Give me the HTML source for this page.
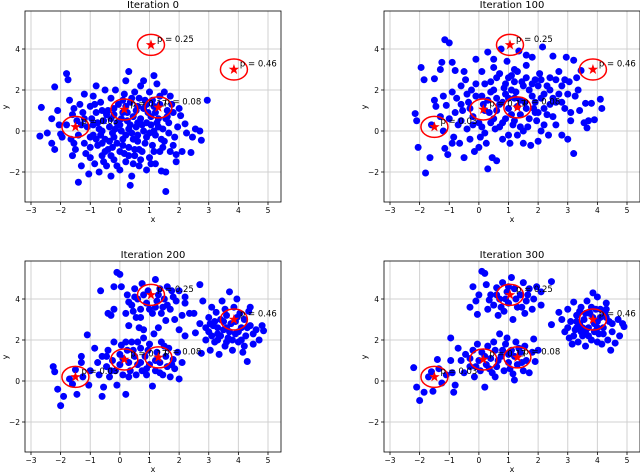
<!DOCTYPE html>
<html><head><meta charset="utf-8">
<style>
html,body{margin:0;padding:0;background:#fff;overflow:hidden}
svg{display:block}
text{font-family:"DejaVu Sans","Liberation Sans",sans-serif}
</style></head>
<body>
<svg id="chart" width="640" height="472" viewBox="0 0 640 472"></svg>
<script>
const titles = ["Iteration 0","Iteration 100","Iteration 200","Iteration 300"];
const xTicks = [-3,-2,-1,0,1,2,3,4,5];
const yTicks = [-2,0,2,4];
const meansX = [-1.5,0.15,1.3,1.05,3.85];
const meansY = [0.2,1.05,1.15,4.2,3.0];
const weights = ["0.03","0.17","0.08","0.25","0.46"];
const pts0 = [[-2.7,-0.25],[-2.65,1.15],[-2.45,-0.1],[-2.3,-0.6],[-2.3,0.6],[-2.2,2.15],[-2.2,-0.9],[-2.1,1.0],[-2.05,0.3],[-2.0,-0.15],[-1.95,-0.3],[-1.8,2.8],[-1.75,2.5],[-1.7,1.5],[-1.65,-0.4],[-1.6,-1.2],[-1.55,1.1],[-1.5,-0.9],[-1.45,0.5],[-1.4,-2.5],[-1.35,1.3],[-1.3,-1.7],[-1.25,0.9],[-1.2,1.8],[-1.2,-0.6],[-1.15,-1.1],[-1.1,0.2],[-1.05,-2.1],[-1.0,1.2],[-1.0,-1.3],[-0.95,0.6],[-0.9,-0.2],[-0.9,1.7],[-0.85,-1.6],[-0.8,2.2],[-0.8,0.9],[-0.75,-0.7],[-0.7,0.1],[-0.7,-2.0],[-0.65,1.4],[-0.6,-1.2],[-0.55,0.5],[-0.5,2.0],[-0.5,-0.4],[-0.45,-1.7],[-0.4,1.0],[-0.4,-0.9],[-0.35,0.2],[-0.3,1.6],[-0.3,-2.2],[-0.25,-0.1],[-0.2,0.8],[-0.2,-1.4],[-0.15,2.0],[-0.1,-0.6],[-0.1,0.4],[-0.05,1.3],[0.0,-1.0],[0.0,-1.9],[0.05,0.0],[0.1,0.9],[0.1,-0.4],[0.15,1.8],[0.2,-1.5],[0.2,2.45],[0.25,0.5],[0.3,2.9],[0.3,-0.8],[0.35,-2.65],[0.35,1.4],[0.4,-0.1],[0.4,-2.2],[0.45,0.7],[0.5,-1.2],[0.5,1.9],[0.55,0.2],[0.6,-0.5],[0.6,1.2],[0.65,-1.7],[0.7,2.2],[0.7,0.6],[0.75,-1.0],[0.8,2.45],[0.8,0.0],[0.85,1.5],[0.9,-0.3],[0.9,-1.9],[0.95,0.9],[1.0,-1.3],[1.0,1.9],[1.05,0.3],[1.1,-0.7],[1.15,2.7],[1.15,1.2],[1.2,-0.2],[1.2,-1.6],[1.25,2.3],[1.3,0.6],[1.35,-1.0],[1.35,1.7],[1.4,-1.95],[1.45,0.1],[1.5,1.9],[1.5,-0.5],[1.55,-2.95],[1.55,-2.0],[1.6,1.0],[1.65,0.4],[1.7,-1.0],[1.7,1.7],[1.8,0.9],[1.85,-0.3],[1.9,-1.5],[1.9,-1.15],[1.95,0.2],[2.0,1.1],[2.05,0.75],[2.1,-1.0],[2.2,0.35],[2.25,-0.1],[2.4,-1.05],[2.45,-0.3],[2.55,0.1],[2.7,0.0],[2.75,-0.45],[2.95,1.5],[-0.6,0.0],[-0.3,0.6],[0.0,0.3],[0.3,0.1],[0.6,-0.2],[0.9,0.4],[1.2,0.9],[-0.2,-0.3],[0.5,-0.9],[0.2,1.2],[0.8,1.1],[-0.8,-0.4],[1.4,-0.4],[-0.5,-1.0],[0.3,-1.2],[1.0,-0.1],[-1.3,0.3],[-0.1,-1.7],[0.7,-1.4],[1.1,1.5],[-0.6,1.0],[0.4,1.6],[1.6,0.7],[-1.0,-0.8],[0.1,-0.7],[-0.3,-1.2],[0.6,0.4],[1.3,0.2],[-0.9,0.3],[0.2,-0.2],[-1.6,0.8],[-1.4,-0.2],[-1.2,0.6],[-1.0,-0.3],[-0.75,0.4],[-0.6,-0.6],[-0.45,0.8],[-0.35,-0.5],[-0.15,0.1],[0.05,0.6],[0.15,-1.1],[0.25,0.9],[0.45,-0.4],[0.55,1.0],[0.65,-0.9],[0.75,0.3],[0.85,-0.6],[1.05,0.7],[1.15,-1.0],[1.25,0.4],[1.35,1.3],[1.45,-0.8],[1.55,0.6],[1.65,-0.1],[1.75,1.3],[1.8,-0.7],[-0.55,-1.5],[0.45,-1.6],[1.05,-1.6],[-0.85,1.3],[-0.2,1.1],[0.9,1.3],[-1.55,-0.6],[-1.8,0.3],[-0.65,-0.2],[0.35,0.3],[1.15,0.0],[-0.25,-0.8],[0.1,1.5],[0.65,1.6]];
const pts100 = [[-2.15,0.85],[-2.1,0.5],[-2.05,-0.8],[-1.95,3.1],[-1.85,2.5],[-1.8,-2.05],[-1.65,-1.3],[-1.5,1.5],[-1.5,2.55],[-1.45,1.2],[-1.3,3.0],[-1.25,3.35],[-1.2,1.7],[-1.2,0.0],[-1.15,-0.85],[-1.15,4.45],[-1.1,1.25],[-1.05,-1.15],[-1.0,4.3],[-1.0,0.6],[-0.9,3.35],[-0.85,-0.3],[-0.8,2.95],[-0.75,1.6],[-0.7,0.3],[-0.65,-0.6],[-0.6,2.2],[-0.55,1.0],[-0.5,-1.3],[-0.45,2.5],[-0.4,0.1],[-0.35,1.4],[-0.3,-0.4],[-0.25,2.0],[-0.2,0.7],[-0.15,-1.0],[-0.1,3.5],[-0.1,1.7],[0.0,0.4],[0.05,-0.3],[0.1,2.9],[0.15,1.3],[0.2,2.3],[0.25,-0.6],[0.3,-1.85],[0.3,3.85],[0.35,0.9],[0.4,1.9],[0.45,-1.3],[0.5,3.1],[0.55,0.1],[0.6,-1.45],[0.6,2.6],[0.7,1.3],[0.75,4.0],[0.8,-0.4],[0.85,2.1],[0.9,0.6],[0.95,3.4],[1.0,1.6],[1.05,-0.6],[1.1,2.7],[1.15,0.3],[1.2,3.0],[1.25,1.9],[1.3,-0.2],[1.35,3.9],[1.4,0.8],[1.45,2.4],[1.5,-0.6],[1.55,1.4],[1.6,3.2],[1.65,0.2],[1.7,2.0],[1.75,-0.7],[1.8,3.6],[1.85,1.1],[1.9,2.5],[1.95,0.5],[2.0,-0.5],[2.05,2.8],[2.1,1.6],[2.15,4.1],[2.2,0.3],[2.3,2.2],[2.35,-0.2],[2.4,1.3],[2.5,3.65],[2.5,0.7],[2.6,2.5],[2.7,1.8],[2.8,-0.2],[2.9,1.1],[2.95,3.6],[3.0,-0.4],[3.05,2.4],[3.1,0.5],[3.2,3.45],[3.2,-1.1],[3.25,1.7],[3.35,2.0],[3.45,2.95],[3.55,0.4],[3.6,1.35],[3.65,0.15],[3.7,0.5],[3.8,1.35],[3.9,0.55],[4.1,1.55],[4.15,1.1],[0.2,1.0],[0.6,1.6],[1.0,1.1],[1.4,1.5],[1.8,1.7],[0.5,0.6],[1.2,0.5],[2.2,1.1],[0.1,0.2],[0.9,2.3],[1.6,2.6],[-0.3,1.1],[2.6,1.4],[1.3,1.2],[0.7,0.2],[1.9,0.9],[0.3,1.5],[1.1,2.0],[2.4,2.0],[-0.6,1.3],[1.5,0.0],[0.8,1.4],[2.0,2.2],[1.2,2.4],[0.4,2.4],[2.8,2.2],[-0.9,1.9],[-0.8,0.9],[-0.6,0.5],[-0.4,1.8],[-0.2,0.3],[-0.1,2.3],[0.1,1.7],[0.2,-0.1],[0.4,0.4],[0.5,2.0],[0.6,1.0],[0.7,2.8],[0.8,0.4],[0.9,1.8],[1.0,2.6],[1.1,0.8],[1.2,1.6],[1.3,2.9],[1.4,0.2],[1.5,2.2],[1.6,1.1],[1.7,0.6],[1.8,2.3],[1.9,1.4],[2.0,0.9],[2.1,2.5],[2.2,1.8],[2.3,0.8],[2.4,2.6],[2.5,1.6],[2.6,0.3],[2.7,2.9],[2.8,1.4],[2.9,2.5],[3.0,1.8],[3.1,0.9],[3.3,2.6],[3.4,1.0],[-1.3,0.7],[-1.6,0.3],[-0.9,-0.6],[0.0,-0.8],[1.0,-0.2],[2.1,0.0],[-0.5,2.9],[0.5,3.5],[1.6,3.7]];
const pts200 = [[-2.25,0.7],[-2.2,0.45],[-2.1,-0.4],[-2.0,-1.2],[-1.9,-0.75],[-1.7,0.1],[-1.6,-0.15],[-1.5,0.55],[-1.45,-0.65],[-1.3,1.2],[-1.3,0.9],[-1.25,0.2],[-1.1,2.25],[-1.05,-0.2],[-1.0,0.5],[-0.85,1.6],[-0.75,0.9],[-0.7,0.3],[-0.6,1.2],[-0.55,-0.3],[-0.45,0.7],[-0.4,1.5],[-0.35,0.2],[-0.25,1.0],[-0.2,1.9],[-0.15,0.5],[-0.1,-0.2],[0.0,1.3],[0.0,0.8],[0.05,1.75],[0.1,0.3],[0.2,-0.65],[0.25,1.5],[0.3,0.9],[0.35,0.5],[0.4,1.9],[0.5,1.2],[0.55,0.3],[0.6,0.8],[0.7,1.6],[0.75,0.5],[0.8,2.1],[0.85,1.2],[0.9,0.3],[1.0,1.8],[1.0,0.8],[1.1,-0.25],[1.15,2.3],[1.2,0.5],[1.25,1.4],[1.35,0.9],[1.4,1.9],[1.45,0.3],[1.55,1.2],[1.6,0.7],[1.65,1.6],[1.7,0.2],[1.8,1.05],[1.85,0.6],[1.95,1.4],[2.0,0.1],[2.1,0.9],[2.2,2.2],[-0.6,-0.75],[0.2,1.9],[0.6,1.9],[-0.65,4.4],[-0.4,3.3],[-0.3,3.2],[-0.2,4.6],[-0.2,3.5],[-0.1,5.3],[0.0,5.2],[0.05,4.6],[0.2,3.3],[0.25,4.2],[0.3,2.7],[0.4,3.7],[0.5,4.5],[0.55,3.1],[0.6,4.0],[0.7,3.5],[0.75,4.75],[0.8,2.5],[0.9,3.8],[0.95,4.4],[1.1,3.3],[1.2,4.95],[1.25,3.9],[1.3,2.6],[1.35,4.5],[1.45,3.6],[1.5,4.0],[1.55,2.95],[1.6,4.6],[1.7,3.5],[1.8,4.1],[1.85,3.0],[1.9,3.9],[2.0,2.5],[2.0,4.4],[2.1,3.2],[2.2,3.8],[2.35,3.3],[2.7,4.7],[2.2,4.1],[1.0,3.5],[0.65,2.6],[1.4,3.3],[0.3,3.85],[2.5,3.3],[2.55,2.35],[2.7,2.8],[2.75,1.35],[2.8,3.9],[2.9,2.0],[3.0,3.1],[3.0,2.4],[3.05,1.5],[3.1,3.6],[3.15,2.7],[3.2,1.9],[3.25,3.35],[3.3,2.3],[3.35,1.3],[3.4,3.0],[3.45,3.9],[3.5,2.5],[3.55,1.7],[3.6,3.2],[3.65,2.1],[3.7,4.35],[3.75,2.8],[3.8,1.5],[3.85,3.6],[3.9,2.3],[3.95,4.0],[4.0,1.9],[4.05,3.3],[4.1,2.6],[4.15,1.4],[4.2,3.0],[4.25,2.2],[4.3,0.95],[4.35,3.4],[4.4,2.7],[4.5,1.8],[4.6,2.5],[4.7,2.0],[4.8,2.7],[4.85,2.45],[3.3,2.0],[3.6,2.6],[3.9,2.9],[4.4,3.6],[3.2,2.9],[-0.3,0.5],[0.1,1.1],[0.45,1.5],[0.7,0.9],[0.95,1.5],[1.2,1.0],[1.5,1.7],[1.75,0.8],[0.3,0.2],[-0.45,1.2],[0.9,0.6],[1.35,0.4],[0.5,4.1],[0.8,4.2],[1.3,4.2],[1.6,3.7],[0.7,3.1],[1.2,3.6],[1.75,4.4],[0.45,3.4],[3.05,2.8],[3.3,2.6],[3.5,2.9],[3.4,2.2],[3.7,2.4],[3.8,2.0],[4.0,2.4],[4.1,2.0],[4.3,2.6],[4.2,1.7],[3.6,1.9],[3.1,2.2],[2.9,2.6],[4.5,2.3],[3.55,3.5],[3.95,3.1]];
const pts300 = [[-2.2,0.65],[-2.1,-0.3],[-2.0,-0.95],[-1.85,-0.55],[-1.7,0.2],[-1.6,0.45],[-1.55,-0.5],[-1.4,1.05],[-1.35,0.6],[-1.25,-0.1],[-1.1,0.3],[-0.95,2.1],[-0.9,0.4],[-0.85,-0.55],[-0.8,-0.2],[-0.7,1.6],[-0.95,1.0],[-0.6,1.0],[-0.5,0.4],[-0.45,1.3],[-0.3,0.7],[-0.2,1.5],[-0.15,0.2],[-0.05,1.8],[0.0,1.0],[0.05,0.5],[0.1,1.4],[0.2,-0.3],[0.25,0.8],[0.3,1.7],[0.4,1.1],[0.45,0.4],[0.55,1.5],[0.6,0.7],[0.7,2.3],[0.75,1.2],[0.85,0.5],[0.9,1.8],[0.95,2.1],[1.0,0.9],[1.1,1.5],[1.15,0.35],[1.2,0.05],[1.25,1.9],[1.3,0.8],[1.4,1.4],[1.5,0.5],[1.55,1.7],[1.6,1.0],[1.7,0.4],[1.8,1.4],[1.85,2.05],[1.9,0.95],[2.0,1.5],[-0.3,1.1],[0.5,1.9],[1.0,1.3],[-0.2,4.6],[-0.1,3.9],[0.1,5.35],[0.2,5.25],[0.25,4.7],[0.3,3.5],[0.4,4.2],[0.5,3.7],[0.6,4.55],[0.65,3.2],[0.7,4.0],[0.8,4.8],[0.85,3.4],[0.95,4.35],[1.0,3.8],[1.1,5.05],[1.15,3.0],[1.2,4.5],[1.3,3.6],[1.4,4.2],[1.5,4.8],[1.55,3.3],[1.6,3.9],[1.7,4.5],[1.8,3.5],[1.85,4.0],[1.95,4.6],[2.1,4.35],[2.1,3.7],[2.45,4.85],[0.0,4.2],[-0.3,3.6],[-0.05,3.25],[2.45,2.75],[2.7,3.35],[2.8,3.0],[2.9,2.4],[3.0,3.5],[3.05,2.1],[3.1,2.9],[3.15,1.8],[3.2,3.85],[3.25,2.5],[3.3,3.2],[3.35,1.9],[3.4,2.8],[3.45,3.6],[3.5,2.2],[3.55,3.0],[3.6,1.7],[3.65,3.9],[3.7,2.6],[3.75,3.3],[3.8,2.0],[3.85,4.3],[3.9,2.8],[3.95,3.5],[4.0,4.1],[4.05,2.3],[4.1,3.1],[4.15,1.8],[4.2,2.6],[4.3,3.5],[4.35,2.0],[4.4,2.9],[4.5,2.4],[4.6,1.85],[4.7,3.0],[4.75,2.2],[4.85,2.8],[4.9,2.65],[4.45,1.5],[3.3,2.6],[3.6,2.4],[4.0,2.6],[3.8,3.6],[4.3,3.8],[3.0,2.6],[0.2,1.2],[0.35,0.6],[0.65,1.0],[0.8,1.5],[1.05,0.6],[1.2,1.2],[1.35,1.6],[1.45,0.9],[-0.1,0.7],[0.55,0.2],[0.6,4.2],[0.9,4.0],[1.25,4.0],[1.0,4.6],[1.45,3.6],[0.75,3.6],[1.65,4.2],[0.35,3.95],[3.3,2.9],[3.5,2.6],[3.6,3.3],[3.7,2.2],[3.9,2.4],[4.0,2.9],[4.1,3.5],[4.2,2.3],[4.3,3.1],[3.45,2.4],[3.2,2.2],[4.5,2.8],[4.0,1.9],[3.85,3.1],[3.4,3.4],[4.25,3.3]];
const panelPoints = [pts0, pts100, pts200, pts300];

const NS = "http://www.w3.org/2000/svg";
const svg = document.getElementById("chart");
const offsets = [[0,0],[359,0],[0,250],[359,250]];
const AX = {l:25, r:281, t:11, b:202};
function sx(v){ return 31 + (v + 3) * 29.625; }
function sy(v){ return 131 - v * 20.5; }
function mk(tag, attrs, parent){
  const e = document.createElementNS(NS, tag);
  for (const k in attrs) e.setAttribute(k, attrs[k]);
  parent.appendChild(e);
  return e;
}
function starPath(cx, cy, R){
  const r = R * 0.4; let d = "";
  for (let i = 0; i < 10; i++){
    const a = -Math.PI/2 + i * Math.PI/5;
    const rr = i % 2 ? r : R;
    d += (i ? "L" : "M") + (cx + rr*Math.cos(a)).toFixed(2) + "," + (cy + rr*Math.sin(a)).toFixed(2);
  }
  return d + "Z";
}
const defs = mk("defs", {}, svg);
const cp = mk("clipPath", {id:"axclip"}, defs);
mk("rect", {x:AX.l, y:AX.t, width:AX.r-AX.l, height:AX.b-AX.t}, cp);

titles.forEach((title, pi) => {
  const g = mk("g", {transform:"translate(" + offsets[pi][0] + "," + offsets[pi][1] + ")"}, svg);
  
  
  const t = mk("text", {x:(AX.l+AX.r)/2, y:8, "text-anchor":"middle", "font-size":"10"}, g);
  t.textContent = title;
  
  
  xTicks.forEach(v => {
    const l = mk("line", {x1:sx(v), x2:sx(v), y1:AX.t, y2:AX.b, stroke:"#d0d0d0", "stroke-width":"1"}, g);
    
    
    mk("line", {x1:sx(v), x2:sx(v), y1:AX.b, y2:AX.b+3, stroke:"#000", "stroke-width":"0.8"}, g);
    const tl = mk("text", {x:sx(v), y:AX.b+11, "text-anchor":"middle", "font-size":"7.5"}, g);
    tl.textContent = v < 0 ? "\u2212" + (-v) : String(v);
    
    
  });
  yTicks.forEach(v => {
    const l = mk("line", {x1:AX.l, x2:AX.r, y1:sy(v), y2:sy(v), stroke:"#d0d0d0", "stroke-width":"1"}, g);
    
    
    mk("line", {x1:AX.l-3, x2:AX.l, y1:sy(v), y2:sy(v), stroke:"#000", "stroke-width":"0.8"}, g);
    const tl = mk("text", {x:AX.l-5, y:sy(v)+3, "text-anchor":"end", "font-size":"7.5"}, g);
    tl.textContent = v < 0 ? "\u2212" + (-v) : String(v);
    
    
  });
  const xl = mk("text", {x:(AX.l+AX.r)/2, y:AX.b+20, "text-anchor":"middle", "font-size":"8"}, g);
  xl.textContent = "x";
  
  
  const yl = mk("text", {x:0, y:0, "text-anchor":"middle", "font-size":"8", transform:"translate(8,107) rotate(-90)"}, g);
  yl.textContent = "y";
  
  

  const inner = mk("g", {"clip-path":"url(#axclip)"}, g);
  panelPoints[pi].forEach(p => {
    const c = mk("circle", {cx:sx(p[0]), cy:sy(p[1]), r:3.5, fill:"#0000ff"}, inner);
    
    
  });
  meansX.forEach((mx, k) => {
    const cx = sx(mx), cy = sy(meansY[k]);
    const e = mk("ellipse", {cx:cx, cy:cy, rx:13.5, ry:10.5, fill:"none", stroke:"#ff0000", "stroke-width":"1.5"}, inner);
    
    
    const s = mk("path", {d:starPath(cx, cy, 5.5), fill:"#ff0000"}, inner);
    
    
    const lt = mk("text", {x:cx+6, y:cy-3, "font-size":"8.5", fill:"#000"}, inner);
    lt.textContent = "p = " + weights[k];
    
    
  });
  const frame = mk("rect", {x:AX.l, y:AX.t, width:AX.r-AX.l, height:AX.b-AX.t, fill:"none", stroke:"#000", "stroke-width":"0.8"}, g);
  
  
});
</script>
</body></html>
